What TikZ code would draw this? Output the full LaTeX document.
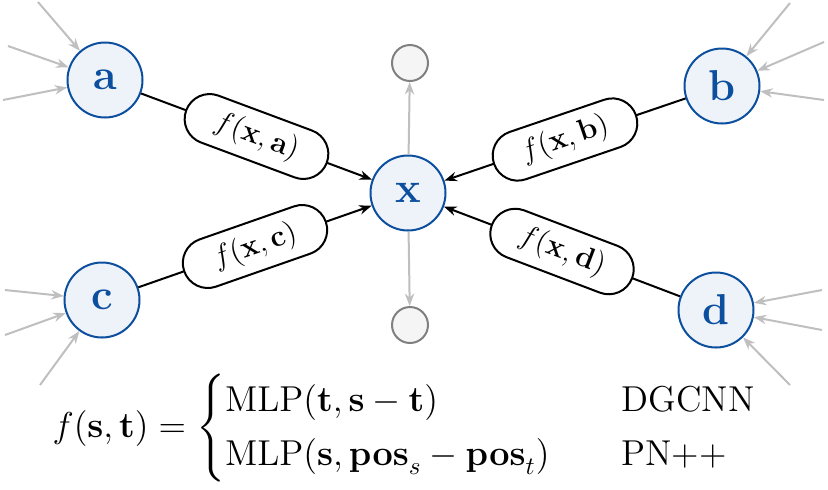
\documentclass[tikz,border=0pt]{standalone}
\usepackage{amsmath}
\usetikzlibrary{arrows.meta,positioning}
\definecolor{nodeblue}{HTML}{0B4F9E}
\definecolor{nodefill}{HTML}{EEF2F9}
\tikzset{
  point/.style={circle, draw=nodeblue, fill=nodefill, thick, minimum size=30pt, inner sep=0pt, text=nodeblue, font=\LARGE\bfseries},
  ghost/.style={circle, draw=black!50, fill=black!4, thick, minimum size=14.4pt, inner sep=0pt},
  edgefn/.style={draw, thick, fill=white, rounded corners=10pt, minimum width=60pt, minimum height=20pt, sloped, font=\large},
  feed/.style={-{Stealth[length=5pt]}, black!25, thick},
  msg/.style={-{Stealth[length=5pt]}, thick}
}
\begin{document}
\begin{tikzpicture}[x=0.4pt, y=-0.4pt]
  \useasboundingbox (0,0) rectangle (828,489);

  \node[point] (a) at (105,80) {a};
  \node[point] (b) at (722,86) {b};
  \node[point] (c) at (102,300) {c};
  \node[point] (d) at (716,310) {d};
  \node[point] (x) at (408,193) {x};
  \node[ghost] (up) at (410,63) {};
  \node[ghost] (down) at (410,325) {};

  % messages into x
  \draw[msg] (a) -- node[edgefn] {$f(\mathbf{x},\mathbf{a})$} (x);
  \draw[msg] (b) -- node[edgefn] {$f(\mathbf{x},\mathbf{b})$} (x);
  \draw[msg] (c) -- node[edgefn] {$f(\mathbf{x},\mathbf{c})$} (x);
  \draw[msg] (d) -- node[edgefn] {$f(\mathbf{x},\mathbf{d})$} (x);
  \draw[feed] (x) -- (up);
  \draw[feed] (x) -- (down);

  % incoming neighbours
  \foreach \nd/\px/\py in {a/38/2, a/8/46, a/3/100, b/790/3, b/824/42, b/824/100,
                           c/5/290, c/5/335, c/40/385, d/822/290, d/822/330, d/790/385} {
    \coordinate (src) at (\px,\py);
    \draw[feed] (src) -- (\nd);
  }

  \node (eq) at (405,428) {\Large$f(\mathbf{s},\mathbf{t}) = \begin{cases}
      \mathrm{MLP}(\mathbf{t},\mathbf{s}-\mathbf{t}) & \quad\text{DGCNN}\\
      \mathrm{MLP}(\mathbf{s},\mathbf{pos}_s-\mathbf{pos}_t) & \quad\text{PN++}
    \end{cases}$};
\end{tikzpicture}
\end{document}
